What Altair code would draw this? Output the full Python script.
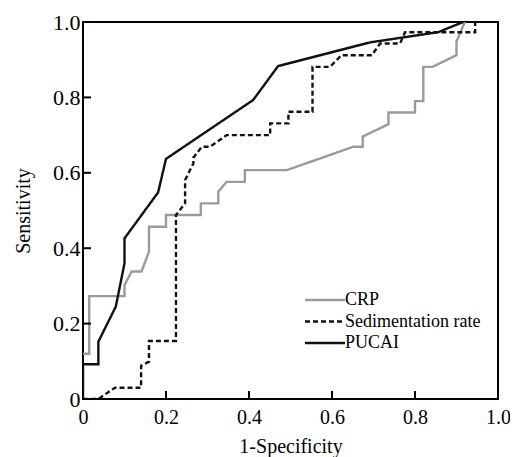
import altair as alt
import pandas as pd

series_names = ["CRP", "Sedimentation rate", "PUCAI"]

crp_x = [0, 0.015, 0.015, 0.1, 0.1, 0.117, 0.141, 0.159, 0.159, 0.2, 0.2, 0.284, 0.284, 0.326, 0.326, 0.346,
         0.39, 0.39, 0.491, 0.651, 0.674, 0.674, 0.736, 0.736, 0.8, 0.8, 0.82, 0.82, 0.842, 0.9, 0.9, 0.92]
crp_y = [0.12, 0.12, 0.273, 0.273, 0.302, 0.338, 0.338, 0.391, 0.457, 0.457, 0.488, 0.488, 0.519, 0.519, 0.55, 0.576,
         0.576, 0.607, 0.607, 0.669, 0.669, 0.696, 0.729, 0.76, 0.76, 0.79, 0.79, 0.881, 0.881, 0.912, 0.948, 1.0]

sed_x = [0, 0.037, 0.077, 0.14, 0.14, 0.159, 0.159, 0.224, 0.224, 0.246, 0.246, 0.266, 0.266, 0.286, 0.306, 0.346,
         0.451, 0.451, 0.495, 0.495, 0.553, 0.553, 0.595, 0.623, 0.696, 0.716, 0.764, 0.776, 0.945, 0.945]
sed_y = [0, 0, 0.03, 0.03, 0.088, 0.099, 0.154, 0.154, 0.488, 0.519, 0.581, 0.625, 0.64, 0.669, 0.669, 0.70,
         0.70, 0.731, 0.731, 0.762, 0.762, 0.881, 0.881, 0.912, 0.912, 0.943, 0.943, 0.973, 0.973, 1.0]

pucai_x = [0, 0, 0.037, 0.037, 0.079, 0.1, 0.1, 0.181, 0.2, 0.41, 0.47, 0.692, 0.856, 0.916]
pucai_y = [0, 0.092, 0.092, 0.152, 0.245, 0.36, 0.426, 0.548, 0.637, 0.793, 0.883, 0.946, 0.973, 1.0]

axis_values = [0, 0.2, 0.4, 0.6, 0.8, 1.0]
tick_values = [0.2, 0.4, 0.6, 0.8]

rows = []
for name, xs, ys in [("CRP", crp_x, crp_y), ("Sedimentation rate", sed_x, sed_y), ("PUCAI", pucai_x, pucai_y)]:
    for i, (xv, yv) in enumerate(zip(xs, ys)):
        rows.append({"series": name, "fpr": xv, "tpr": yv, "order": i})
df = pd.DataFrame(rows)
ticks_df = pd.DataFrame({"t": tick_values})

W, H = 415, 377
FONT = "Liberation Serif"
lab_expr = "datum.value == 0 ? '0' : format(datum.value, '.1f')"

xscale = alt.Scale(domain=[0, 1], nice=False)
yscale = alt.Scale(domain=[0, 1], nice=False)

lines = alt.Chart(df).mark_line(strokeWidth=2.4, clip=True).encode(
    x=alt.X("fpr:Q", scale=xscale, title="1-Specificity",
            axis=alt.Axis(values=axis_values, labelExpr=lab_expr, labelFontSize=20, labelPadding=8,
                          titlePadding=9)),
    y=alt.Y("tpr:Q", scale=yscale, title="Sensitivity",
            axis=alt.Axis(values=axis_values, labelExpr=lab_expr, labelFontSize=22, labelPadding=3,
                          titlePadding=19)),
    color=alt.Color("series:N", scale=alt.Scale(domain=series_names, range=["#9a9a9a", "#111111", "#111111"]),
                    legend=alt.Legend(title=None, orient="none", legendX=233, legendY=269,
                                      symbolType="M-4,0H4", symbolSize=100, symbolStrokeWidth=2.4,
                                      labelOffset=11, labelFont=FONT, labelFontSize=18, labelColor="black",
                                      rowPadding=3.5, padding=0)),
    strokeDash=alt.StrokeDash("series:N", scale=alt.Scale(domain=series_names, range=[[1, 0], [5, 3], [1, 0]]),
                              legend=None),
    order="order:Q",
)

xticks = alt.Chart(ticks_df).mark_rule(color="black", strokeWidth=2).encode(
    x=alt.X("t:Q", scale=xscale), y=alt.value(H - 8), y2=alt.value(H)
)
yticks = alt.Chart(ticks_df).mark_rule(color="black", strokeWidth=2).encode(
    y=alt.Y("t:Q", scale=yscale), x=alt.value(0), x2=alt.value(8)
)

chart = alt.layer(lines, xticks, yticks).properties(
    width=W, height=H,
    autosize=alt.AutoSizeParams(type="none"),
    padding={"left": 75, "top": 14, "right": 12, "bottom": 58},
).configure_view(stroke="black", strokeWidth=2).configure_axis(
    ticks=False, domain=False, grid=False, labelFlush=False,
    labelFont=FONT, labelColor="black",
    titleFont=FONT, titleFontSize=20, titleColor="black", titleFontWeight="normal",
)

chart.save("out.html", embed_options={"renderer": "svg", "actions": False})
